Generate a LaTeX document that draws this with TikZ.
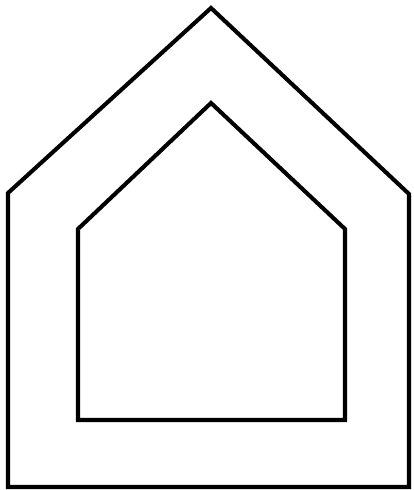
\documentclass[tikz,border=0pt]{standalone}
\usepackage{tikz}
\tikzset{
  wand/.style={draw=black, line width=2.9pt, line join=miter}
}
\begin{document}
\begin{tikzpicture}[x=0.025cm, y=-0.025cm]
    \useasboundingbox (0,0) rectangle (413,490);
    % outer house
    \draw[wand] (211,8) -- (409,194) -- (409,487) -- (8,487) -- (8,193) -- cycle;
    % inner house
    \draw[wand] (211,103) -- (345,229) -- (345,420) -- (78,420) -- (78,229) -- cycle;
\end{tikzpicture}
\end{document}
